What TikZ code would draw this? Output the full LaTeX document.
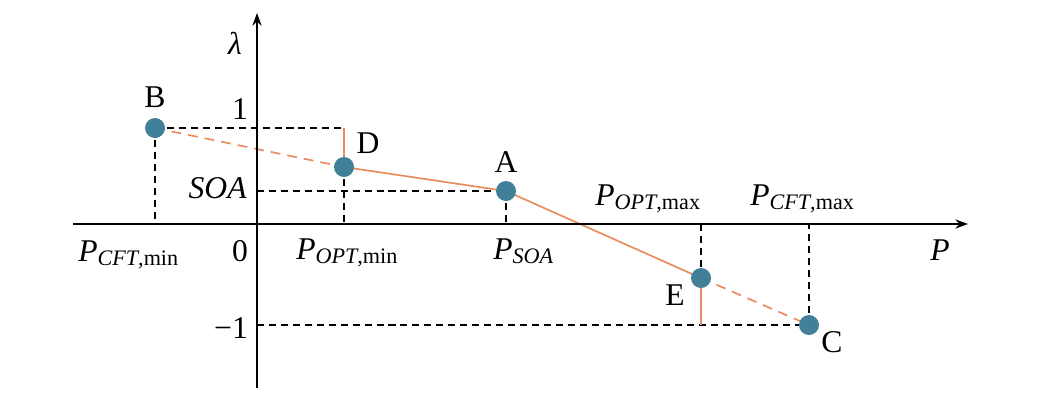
\documentclass[tikz,border=0pt]{standalone}
\usepackage{fontspec}
\setmainfont{Liberation Serif}
\usetikzlibrary{arrows.meta, positioning, backgrounds}
\definecolor{dotblue}{RGB}{65,128,152}
\definecolor{curveorange}{RGB}{232,140,95}
\tikzstyle{op_point} = [circle, fill=dotblue, minimum size=0.5cm, inner sep=0pt]
\tikzstyle{axis_arrow} = [line width=1.3pt, -{Stealth[length=9pt, width=6.5pt]}]
\tikzstyle{guide_line} = [line width=1.1pt, dash pattern=on 5pt off 3.5pt]
\tikzstyle{curve_line} = [line width=1.2pt, draw=curveorange]
\tikzstyle{curve_dashed} = [curve_line, dash pattern=on 7pt off 5pt]
\tikzstyle{axis_label} = [font=\fontsize{22.5}{27}\selectfont, inner sep=0pt]
\newcommand{\Psub}[1]{\textit{P}\textsubscript{#1}}

\begin{document}
\begin{tikzpicture}[x=0.025cm, y=-0.025cm]
\useasboundingbox (0,0) rectangle (1040,402);

% axes
\coordinate (x_start) at (73,224);
\coordinate (x_end) at (968,224);
\coordinate (y_start) at (257,388);
\coordinate (y_end) at (257,13);
\draw [axis_arrow] (x_start) -- (x_end);
\draw [axis_arrow] (y_start) -- (y_end);

% operating points
\node (B) [op_point] at (155,128) {};
\node (D) [op_point] at (344,167) {};
\node (A) [op_point] at (506,191) {};
\node (E) [op_point] at (701,278) {};
\node (C) [op_point] at (809,325) {};

\coordinate (B_axis) at (155,224);
\coordinate (D_top) at (344,128);
\coordinate (D_axis) at (344,224);
\coordinate (A_axis) at (506,224);
\coordinate (SOA_axis) at (257,191);
\coordinate (E_axis) at (701,224);
\coordinate (E_low) at (701,325);
\coordinate (C_axis) at (809,224);
\coordinate (m1_axis) at (257,325);

\begin{pgfonlayer}{background}
\draw [guide_line] (B.center) -- (D_top);
\draw [guide_line] (B.center) -- (B_axis);
\draw [guide_line] (D.center) -- (D_axis);
\draw [guide_line] (SOA_axis) -- (A.center);
\draw [guide_line] (A.center) -- (A_axis);
\draw [guide_line] (E_axis) -- (E.center);
\draw [guide_line] (m1_axis) -- (C.center);
\draw [guide_line] (C.center) -- (C_axis);
\draw [curve_line] (D_top) -- (D.center);
\draw [curve_line] (E.center) -- (E_low);
\draw [curve_dashed] (B.center) -- (D.center);
\draw [curve_line] (D.center) -- (A.center);
\draw [curve_line] (A.center) -- (E.center);
\draw [curve_dashed] (E.center) -- (C.center);
\end{pgfonlayer}

% labels
\node (lbl_B) [axis_label, above=0.25cm of B] {B};
\node (lbl_A) [axis_label, above=0.19cm of A] {A};
\node (lbl_D) [axis_label] at (368,143) {D};
\node (lbl_E) [axis_label] at (675,295) {E};
\node (lbl_C) [axis_label] at (832,342) {C};
\node (lbl_lambda) [axis_label] at (235,43) {\textit{λ}};
\node (lbl_P) [axis_label] at (940,250) {\textit{P}};
\node (lbl_one) [axis_label] at (240,109) {1};
\node (lbl_zero) [axis_label] at (240,251) {0};
\node (lbl_mone) [axis_label] at (231,328) {−1};
\node (lbl_SOA) [axis_label, anchor=east] at (247,188) {\textit{SOA}};
\node (lbl_Pcftmin) [axis_label, anchor=base west] at (78,261) {\Psub{\textit{CFT},min}};
\node (lbl_Poptmin) [axis_label, anchor=base west] at (296,259) {\Psub{\textit{OPT},min}};
\node (lbl_Psoa) [axis_label, anchor=base west] at (493,259) {\Psub{\textit{SOA}}};
\node (lbl_Poptmax) [axis_label, anchor=base west] at (595,205) {\Psub{\textit{OPT},max}};
\node (lbl_Pcftmax) [axis_label, anchor=base west] at (750,205) {\Psub{\textit{CFT},max}};
\end{tikzpicture}
\end{document}
